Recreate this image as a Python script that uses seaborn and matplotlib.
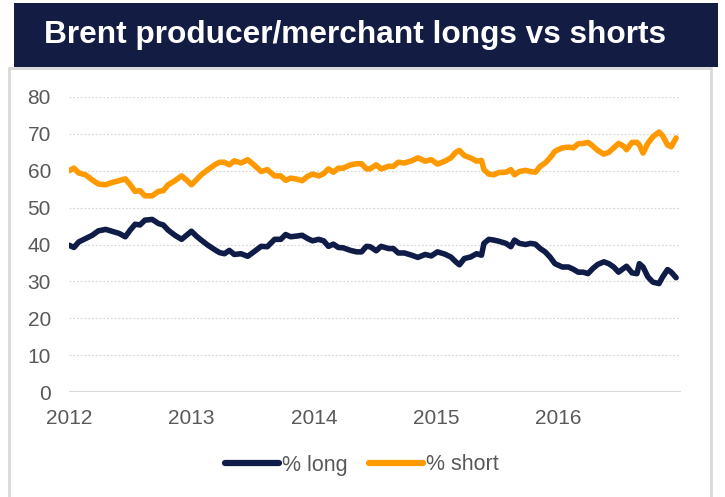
import matplotlib
matplotlib.use('Agg')
import matplotlib.pyplot as plt
from matplotlib.patches import Rectangle
import pandas as pd
import seaborn as sns

# decimal year of each read point
week = [2012.00, 2012.04, 2012.08, 2012.135, 2012.19, 2012.24, 2012.30, 2012.35, 2012.41, 2012.46,
        2012.50, 2012.54, 2012.58, 2012.62, 2012.68, 2012.73, 2012.77, 2012.81, 2012.865, 2012.92,
        2012.96, 2013.00, 2013.04, 2013.08, 2013.135, 2013.19, 2013.23, 2013.27, 2013.31, 2013.35,
        2013.405, 2013.46, 2013.51, 2013.57, 2013.62, 2013.68, 2013.73, 2013.77, 2013.81, 2013.865,
        2013.905, 2013.95, 2013.99, 2014.04, 2014.08, 2014.12, 2014.16, 2014.20, 2014.24, 2014.30,
        2014.35, 2014.39, 2014.43,
        2014.46, 2014.51, 2014.55, 2014.61, 2014.65, 2014.69, 2014.74, 2014.80, 2014.85, 2014.91,
        2014.96, 2015.01, 2015.07, 2015.12, 2015.16, 2015.19, 2015.23, 2015.28, 2015.33, 2015.37,
        2015.39, 2015.43, 2015.47, 2015.51, 2015.57, 2015.61, 2015.64, 2015.68, 2015.73, 2015.77,
        2015.81, 2015.85, 2015.89, 2015.93, 2015.97, 2016.03, 2016.08, 2016.12, 2016.16, 2016.20,
        2016.24, 2016.28, 2016.32, 2016.37, 2016.41, 2016.45, 2016.49, 2016.53, 2016.555, 2016.60,
        2016.64, 2016.66, 2016.69, 2016.73, 2016.77, 2016.82, 2016.85, 2016.89, 2016.92, 2016.96]

pct_long = [39.8, 39.2, 40.7, 41.6, 42.5, 43.7, 44.1, 43.6, 43.0, 42.1,
            43.9, 45.5, 45.3, 46.6, 46.8, 45.7, 45.3, 43.9, 42.5, 41.4,
            42.5, 43.6, 42.3, 41.2, 39.8, 38.6, 37.8, 37.5, 38.4, 37.3,
            37.5, 36.8, 38.0, 39.5, 39.4, 41.4, 41.4, 42.7, 42.1, 42.3,
            42.5, 41.6, 41.0, 41.4, 41.0, 39.5, 40.1, 39.2, 39.1, 38.4,
            38.0, 38.0, 39.5,
            39.4, 38.3, 39.5, 38.9, 38.9, 37.7, 37.7, 37.1, 36.5, 37.3,
            36.9, 38.0, 37.4, 36.6, 35.3, 34.5, 36.2, 36.6, 37.5, 37.1,
            40.3, 41.4, 41.2, 40.9, 40.3, 39.4, 41.2, 40.3, 40.0, 40.3,
            40.1, 38.9, 38.0, 36.6, 34.8, 33.9, 33.9, 33.3, 32.5, 32.5,
            32.1, 33.5, 34.6, 35.3, 34.8, 33.9, 32.5, 33.5, 34.1, 32.3,
            32.1, 34.8, 33.9, 31.2, 29.8, 29.4, 31.2, 33.2, 32.5, 31.0]

pct_short = [60.0, 60.7, 59.4, 58.9, 57.5, 56.4, 56.2, 56.8, 57.3, 57.8,
             56.2, 54.4, 54.6, 53.2, 53.2, 54.4, 54.6, 56.2, 57.3, 58.6,
             57.5, 56.2, 57.5, 58.9, 60.3, 61.6, 62.3, 62.3, 61.6, 62.7,
             62.1, 63.0, 61.6, 59.8, 60.3, 58.6, 58.6, 57.4, 58.0, 57.7,
             57.3, 58.5, 59.1, 58.6, 59.2, 60.5, 59.6, 60.7, 60.7, 61.6,
             61.9, 61.9, 60.5,
             60.5, 61.6, 60.5, 61.2, 61.2, 62.3, 62.1, 62.7, 63.5, 62.6,
             63.0, 61.8, 62.6, 63.5, 65.0, 65.5, 64.1, 63.5, 62.6, 62.8,
             60.3, 59.1, 58.9, 59.5, 59.6, 60.3, 58.9, 59.8, 60.1, 59.8,
             59.6, 61.2, 62.1, 63.5, 65.3, 66.2, 66.4, 66.2, 67.3, 67.4,
             67.7, 66.7, 65.5, 64.5, 65.0, 66.2, 67.4, 66.7, 65.7, 67.7,
             67.7, 67.0, 64.8, 67.5, 69.2, 70.5, 69.5, 67.0, 66.5, 68.9]

year_ticks = [2012, 2013, 2014, 2015, 2016]
series_names = ['% long', '% short']

df = pd.DataFrame({'week': week * 2,
                   'value': pct_long + pct_short,
                   'series': [series_names[0]] * len(week) + [series_names[1]] * len(week)})

sns.set_theme(style='white')
plt.rcParams['font.family'] = ['Liberation Sans', 'DejaVu Sans']

W, H = 725, 497
fig = plt.figure(figsize=(W / 100, H / 100), dpi=100)

# white panel with grey border, navy title banner
fig.patches.append(Rectangle((9 / W, -0.02), 702 / W, 1.02 - 68 / H, transform=fig.transFigure,
                             facecolor='white', edgecolor='#d9d9d9', lw=2, zorder=0))
fig.patches.append(Rectangle((14 / W, 1 - 67 / H), 704 / W, 64 / H, transform=fig.transFigure,
                             facecolor='#131c42', edgecolor='none', zorder=1))
fig.text(355 / W, 1 - 35 / H, 'Brent producer/merchant longs vs shorts', color='white',
         fontsize=22.8, fontweight='bold', ha='center', va='center')

ax = fig.add_axes([69 / W, 1 - 392 / H, 612 / W, 295 / H])
ax.set_zorder(3)
ax.patch.set_alpha(0)
sns.lineplot(data=df, x='week', y='value', hue='series', hue_order=series_names,
             palette=['#0f1c47', '#ff9900'], lw=4, ax=ax, legend=False,
             solid_capstyle='round', solid_joinstyle='round')

ax.set_xlim(2012, 2017)
ax.set_ylim(0, 80)
ax.set_xticks(year_ticks)
ax.set_xticklabels([str(y) for y in year_ticks])
ax.set_yticks(range(0, 81, 10))
ax.set_xlabel('')
ax.set_ylabel('')
for s in ax.spines.values():
    s.set_visible(False)
for y in range(10, 81, 10):
    ax.axhline(y, color='#d9d9d9', lw=0.9, ls=(0, (1.5, 1.5)), zorder=0)
ax.axhline(0, color='#d9d9d9', lw=1.6, zorder=0)
ax.tick_params(axis='both', length=0, labelsize=15, labelcolor='#595959')
ax.tick_params(axis='y', pad=13)
ax.tick_params(axis='x', pad=12)

handles = [plt.Line2D([], [], color=c, lw=4.5, solid_capstyle='round')
           for c in ['#0f1c47', '#ff9900']]
fig.legend(handles, series_names, loc='center', bbox_to_anchor=(362 / W, 1 - 465 / H),
           ncol=2, frameon=False, fontsize=15.5, labelcolor='#595959',
           handlelength=2.5, handletextpad=0.15, columnspacing=1.0)

fig.savefig('out.png', dpi=100)
